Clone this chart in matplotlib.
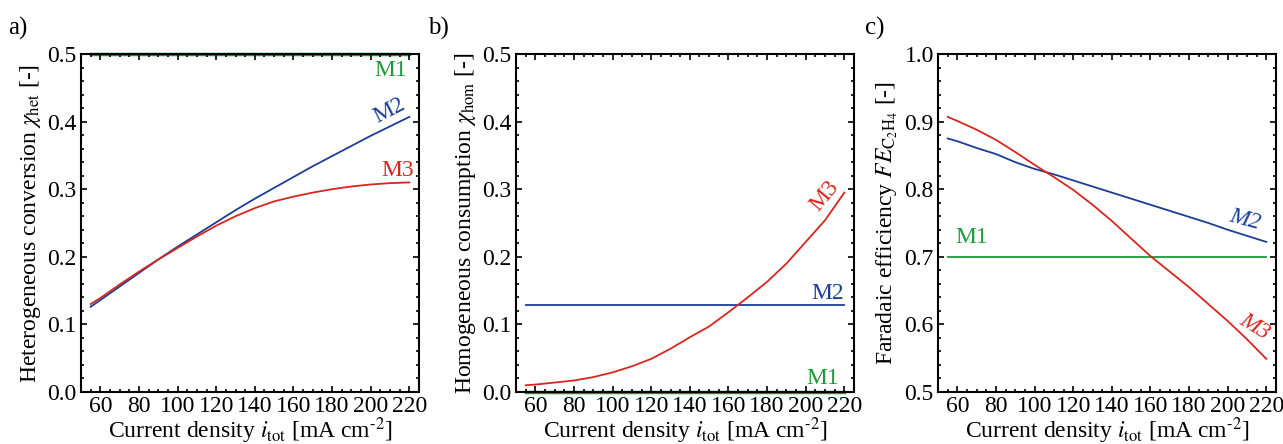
import numpy as np
import matplotlib
matplotlib.use('Agg')
import matplotlib.pyplot as plt
from matplotlib.ticker import MultipleLocator, FormatStrFormatter

plt.rcParams['font.family'] = ['Liberation Serif', 'DejaVu Serif']
plt.rcParams['mathtext.fontset'] = 'stix'

# current density [mA cm-2]
i_tot = [55, 60, 70, 80, 90, 100, 110, 120, 130, 140, 150, 160, 170, 180, 190, 200, 210, 220]

# a) heterogeneous conversion
het_m1 = [0.5] * len(i_tot)
het_m2 = [0.126, 0.136, 0.156, 0.176, 0.196, 0.215, 0.233, 0.251, 0.269, 0.286, 0.302, 0.318, 0.334, 0.349, 0.364, 0.379, 0.393, 0.407]
het_m3 = [0.130, 0.139, 0.159, 0.178, 0.196, 0.213, 0.230, 0.246, 0.260, 0.272, 0.282, 0.289, 0.295, 0.300, 0.304, 0.307, 0.309, 0.310]

# b) homogeneous consumption
hom_m1 = [0.0] * len(i_tot)
hom_m2 = [0.129] * len(i_tot)
hom_m3 = [0.010, 0.011, 0.014, 0.017, 0.022, 0.029, 0.038, 0.049, 0.064, 0.081, 0.097, 0.118, 0.140, 0.163, 0.190, 0.222, 0.254, 0.295]

# c) faradaic efficiency C2H4
fe_m1 = [0.70] * len(i_tot)
fe_m2 = [0.875, 0.871, 0.861, 0.852, 0.840, 0.830, 0.822, 0.813, 0.804, 0.795, 0.786, 0.777, 0.768, 0.759, 0.750, 0.740, 0.731, 0.722]
fe_m3 = [0.907, 0.901, 0.888, 0.873, 0.855, 0.836, 0.818, 0.799, 0.777, 0.753, 0.727, 0.701, 0.678, 0.655, 0.630, 0.605, 0.578, 0.549]

green = '#1f9a3a'
blue = '#1a3e96'
red = '#d7261e'

fig = plt.figure(figsize=(12.83, 4.44), dpi=100)
lefts = [81 / 1283, 516 / 1283, 938 / 1283]
axes = [fig.add_axes([l, 1 - 392 / 444, 338 / 1283, 338 / 444]) for l in lefts]

xlabel = r'Current density $i_{\rm tot}$ [mA cm$^{\text{-2}}$]'

for ax in axes:
    ax.set_xlim(50, 225)
    ax.xaxis.set_major_locator(MultipleLocator(20))
    ax.xaxis.set_minor_locator(MultipleLocator(5))
    ax.yaxis.set_major_locator(MultipleLocator(0.1))
    ax.yaxis.set_minor_locator(MultipleLocator(0.02))
    ax.yaxis.set_major_formatter(FormatStrFormatter('%.1f'))
    ax.tick_params(which='both', direction='in', top=True, right=True, labelsize=17, width=1.2, pad=3)
    ax.tick_params(which='major', length=4)
    ax.tick_params(which='minor', length=2.5)
    for s in ax.spines.values():
        s.set_linewidth(1.5)
    ax.set_xlabel(xlabel, fontsize=17, labelpad=-1.5)

# panel a
ax = axes[0]
ax.plot(i_tot, het_m1, color=green, lw=2.5, clip_on=False, zorder=1)
ax.plot(i_tot, het_m2, color=blue, lw=1.3)
ax.plot(i_tot, het_m3, color=red, lw=1.3)
ax.set_ylim(0, 0.5)
ax.set_ylabel(r'Heterogeneous conversion $\chi_{\rm het}$ [-]', fontsize=17, labelpad=3)
ax.text(210.5, 0.476, 'M1', color=green, fontsize=17, ha='center', va='center')
ax.text(209.5, 0.416, 'M2', color=blue, fontsize=17, ha='center', va='center', rotation=27)
ax.text(214, 0.327, 'M3', color=red, fontsize=17, ha='center', va='center')

# panel b
ax = axes[1]
ax.plot(i_tot, hom_m1, color=green, lw=2.5, clip_on=False, zorder=1)
ax.plot(i_tot, hom_m2, color=blue, lw=1.3)
ax.plot(i_tot, hom_m3, color=red, lw=1.3)
ax.set_ylim(0, 0.5)
ax.set_ylabel(r'Homogeneous consumption $\chi_{\rm hom}$ [-]', fontsize=17, labelpad=3)
ax.text(211.4, 0.145, 'M2', color=blue, fontsize=17, ha='center', va='center')
ax.text(208.8, 0.020, 'M1', color=green, fontsize=17, ha='center', va='center')
ax.text(210, 0.290, 'M3', color=red, fontsize=17, ha='center', va='center', rotation=50)

# panel c
ax = axes[2]
ax.plot(i_tot, fe_m1, color=green, lw=1.3)
ax.plot(i_tot, fe_m2, color=blue, lw=1.3)
ax.plot(i_tot, fe_m3, color=red, lw=1.3)
ax.set_ylim(0.5, 1.0)
ax.set_ylabel(r'Faradaic efficiency $FE_{\rm C_2H_4}$ [-]', fontsize=17, labelpad=3)
ax.text(67.4, 0.729, 'M1', color=green, fontsize=17, ha='center', va='center')
ax.text(208.9, 0.755, 'M2', color=blue, fontsize=17, ha='center', va='center', rotation=-15, style='italic')
ax.text(214, 0.596, 'M3', color=red, fontsize=17, ha='center', va='center', rotation=-32, style='italic')

fig.text(8 / 1283, 0.937, 'a)', fontsize=18, va='center')
fig.text(428 / 1283, 0.937, 'b)', fontsize=18, va='center')
fig.text(865 / 1283, 0.937, 'c)', fontsize=18, va='center')

fig.savefig('out.png', dpi=100)
